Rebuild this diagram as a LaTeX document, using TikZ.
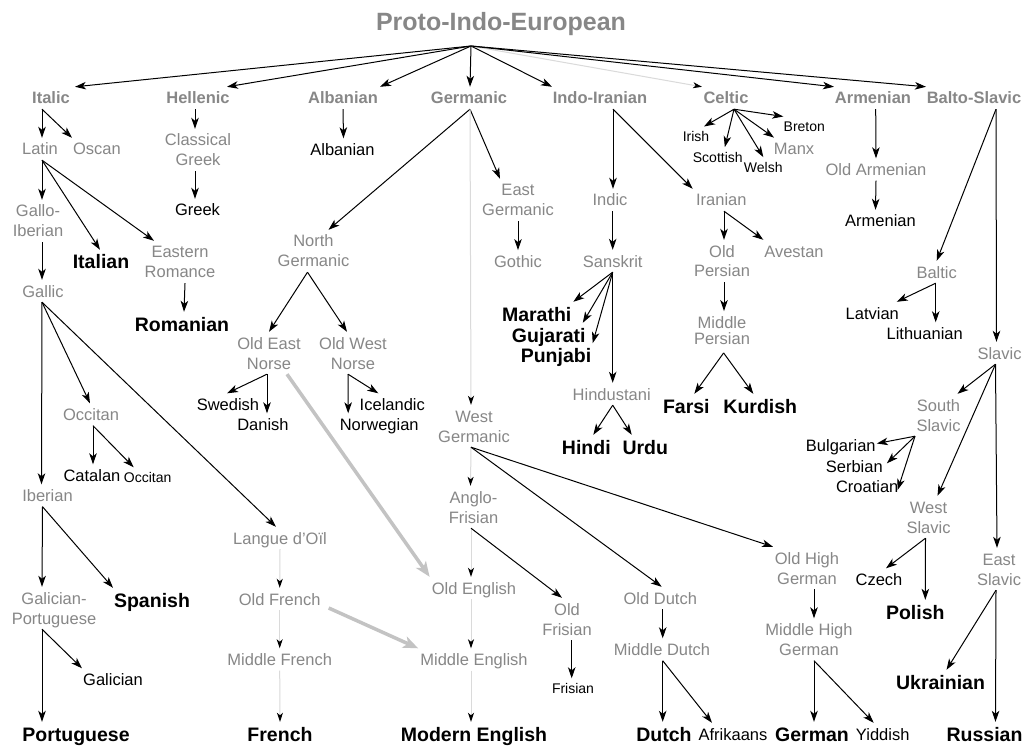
\documentclass[tikz,border=0pt]{standalone}
\usepackage{fontspec}
\setmainfont{Liberation Sans}
\usetikzlibrary{arrows.meta}
\definecolor{tgray}{RGB}{135,135,135}
\definecolor{lgray}{RGB}{218,218,218}
\definecolor{mgray}{RGB}{195,195,195}
\newcommand\twoln[2]{\vtop{\halign{\hfil##\hfil\cr#1\cr#2\cr}}}
\newcommand\conn[5][carr]{\draw[#1] ([xshift=#3pt]#2.south) -- ([xshift=#5pt]#4.north);}
\begin{document}
\begin{tikzpicture}[x=1pt,y=-1pt,
  nb/.style={inner xsep=0pt, inner ysep=5pt, text depth=0pt, anchor=center},
  ttitle/.style={nb, font=\fontsize{25}{30}\selectfont\bfseries, text=tgray, text height=18pt},
  tgrp/.style={nb, font=\fontsize{16.5}{20}\selectfont\bfseries, text=tgray, text height=12pt},
  tmid/.style={nb, font=\fontsize{16.5}{20}\selectfont, text=tgray, text height=12pt},
  tmidd/.style={tmid, text depth=20pt},
  tmod/.style={nb, font=\fontsize{16.5}{20}\selectfont, text=black, text height=12pt},
  tbig/.style={nb, font=\fontsize{19.5}{23}\selectfont\bfseries, text=black, text height=14pt},
  tsml/.style={nb, font=\fontsize{14}{17}\selectfont, text=black, text height=10pt},
  carr/.style={draw=black, line width=1pt, -{Stealth[length=11pt,width=7.5pt,inset=3pt]}},
  clite/.style={draw=lgray, line width=1pt, -{Stealth[length=9pt,width=6pt,inset=2.5pt,color=black]}},
  cfat/.style={draw=mgray, line width=3.5pt, -{Stealth[length=15pt,width=12pt,inset=4pt]}}]
\useasboundingbox (0,0) rectangle (1028,746);
\fill[white] (0,0) rectangle (1028,746);

% title
\node[ttitle] (pie) at (501,22) {Proto-Indo-European};
\coordinate (pieroot) at (471,46);

% groups
\node[tgrp] (italic) at (51,98) {Italic};
\node[tgrp] (hellenic) at (198,98) {Hellenic};
\node[tgrp] (albanianG) at (343,98) {Albanian};
\node[tgrp] (germanic) at (469,98) {Germanic};
\node[tgrp] (indoiran) at (600,98) {Indo-Iranian};
\node[tgrp] (celtic) at (726,98) {Celtic};
\node[tgrp] (armenianG) at (873,98) {Armenian};
\node[tgrp] (baltoslavic) at (974,98) {Balto-Slavic};

% Italic
\node[tmid] (latin) at (40,149) {Latin};
\node[tmid] (oscan) at (97,149) {Oscan};
\node[tmidd] (galloib) at (38,221) {\twoln{Gallo-}{Iberian}};
\node[tbig] (italian) at (101,262) {Italian};
\node[tmidd] (eastrom) at (180,262) {\twoln{Eastern}{Romance}};
\node[tbig] (romanian) at (182,324) {Romanian};
\node[tmid] (gallic) at (43,291) {Gallic};
\node[tmid] (occitanM) at (91,414.5) {Occitan};
\node[tmod] (catalan) at (92,475.5) {Catalan};
\node[tsml] (occitan) at (147.7,477.5) {Occitan};
\node[tmid] (iberian) at (47.5,495.5) {Iberian};
\node[tmid] (langoil) at (280,538) {Langue d’Oïl};
\node[tbig] (spanish) at (152,600) {Spanish};
\node[tmidd] (galport) at (54,608) {\twoln{Galician-}{Portuguese}};
\node[tmod] (galician) at (113,679.5) {Galician};
\node[tbig] (portuguese) at (76,734) {Portuguese};
\node[tmid] (oldfrench) at (279.7,599) {Old French};
\node[tmid] (midfrench) at (279.7,659.5) {Middle French};
\node[tbig] (french) at (280,734) {French};

% Hellenic, Albanian
\node[tmidd] (classgreek) at (198,150) {\twoln{Classical}{Greek}};
\node[tmod] (greek) at (197.5,210) {Greek};
\node[tmod] (albanian) at (342.5,149.5) {Albanian};

% Germanic
\node[tmidd] (northgerm) at (313.5,251) {\twoln{North}{Germanic}};
\node[tmidd] (eastgerm) at (518,200) {\twoln{East}{Germanic}};
\node[tmid] (gothic) at (518,261.3) {Gothic};
\node[tmidd] (oen) at (269,353) {\twoln{Old East}{Norse}};
\node[tmidd] (own) at (353,353) {\twoln{Old West}{Norse}};
\node[tmod] (swedish) at (228,404.5) {Swedish};
\node[tmod] (danish) at (263,424.5) {Danish};
\node[tmod] (icelandic) at (392.3,404.5) {Icelandic};
\node[tmod] (norwegian) at (379.2,424.5) {Norwegian};
\node[tmidd] (westgerm) at (474,426) {\twoln{West}{Germanic}};
\node[tmidd] (anglofris) at (473.5,507) {\twoln{Anglo-}{Frisian}};
\node[tmid] (oldeng) at (474,588) {Old English};
\node[tmid] (midengl) at (474,659.5) {Middle English};
\node[tbig] (modeng) at (474,734) {Modern English};
\node[tmidd] (oldfris) at (567,619) {\twoln{Old}{Frisian}};
\node[tsml] (frisian) at (573,688.5) {Frisian};
\node[tmid] (olddutch) at (660.3,598) {Old Dutch};
\node[tmid] (middutch) at (662,649.5) {Middle Dutch};
\node[tbig] (dutch) at (664,734) {Dutch};
\node[tmod] (afrikaans) at (733,734) {Afrikaans};
\node[tmidd] (ohg) at (807,568) {\twoln{Old High}{German}};
\node[tmidd] (mhg) at (809,639.5) {\twoln{Middle High}{German}};
\node[tbig] (german) at (812,734) {German};
\node[tmod] (yiddish) at (882.7,734) {Yiddish};

% Indo-Iranian
\node[tmid] (indic) at (610,200) {Indic};
\node[tmid] (sanskrit) at (612.7,261) {Sanskrit};
\node[tbig] (marathi) at (536.7,314) {Marathi};
\node[tbig] (gujarati) at (548.8,335) {Gujarati};
\node[tbig] (punjabi) at (556,355.3) {Punjabi};
\node[tmid] (hindustani) at (611.7,394) {Hindustani};
\node[tbig] (hindi) at (586.3,447) {Hindi};
\node[tbig] (urdu) at (645.3,447) {Urdu};
\node[tmid] (iranian) at (721.3,200) {Iranian};
\node[tmidd] (oldpersian) at (722,261) {\twoln{Old}{Persian}};
\node[tmid] (avestan) at (794,251) {Avestan};
\node[tmidd, font=\fontsize{16.5}{16.5}\selectfont, text depth=16.5pt] (midpersian) at (722,330.5) {\twoln{Middle}{Persian}};
\node[tbig] (farsi) at (686.3,406) {Farsi};
\node[tbig] (kurdish) at (760.3,406) {Kurdish};

% Celtic
\node[tsml] (irish) at (696,136.7) {Irish};
\node[tsml] (scottish) at (717.8,157.3) {Scottish};
\node[tsml] (welsh) at (763.3,167.3) {Welsh};
\node[tmid] (manx) at (794,148.8) {Manx};
\node[tsml] (breton) at (804.3,126.7) {Breton};

% Armenian
\node[tmid] (oldarmenian) at (876,169.5) {Old Armenian};
\node[tmod] (armenian) at (880.5,221) {Armenian};

% Balto-Slavic
\node[tmid] (baltic) at (936.7,272) {Baltic};
\node[tmod] (latvian) at (872.3,313) {Latvian};
\node[tmod] (lithuanian) at (924.7,333.5) {Lithuanian};
\node[tmid] (slavic) at (999.5,353) {Slavic};
\node[tmidd] (southslavic) at (938.5,415) {\twoln{South}{Slavic}};
\node[tmod] (bulgarian) at (840.8,445.5) {Bulgarian};
\node[tmod] (serbian) at (854.3,466) {Serbian};
\node[tmod] (croatian) at (867.2,486) {Croatian};
\node[tmidd] (westslavic) at (928.5,517) {\twoln{West}{Slavic}};
\node[tmod] (czech) at (879,579.5) {Czech};
\node[tbig] (polish) at (915.3,612) {Polish};
\node[tmidd] (eastslavic) at (999,569) {\twoln{East}{Slavic}};
\node[tbig] (ukrainian) at (940.5,682) {Ukrainian};
\node[tbig] (russian) at (984.5,734) {Russian};

% ---- connectors ----
\draw[carr] (pieroot) -- ([xshift=24pt]italic.north);
\draw[carr] (pieroot) -- ([xshift=29pt]hellenic.north);
\draw[carr] (pieroot) -- ([xshift=37pt]albanianG.north);
\draw[carr] (pieroot) -- ([xshift=1pt]germanic.north);
\draw[carr] (pieroot) -- ([xshift=-48pt]indoiran.north);
\draw[clite] (pieroot) -- ([xshift=-24pt]celtic.north);
\draw[carr] (pieroot) -- ([xshift=-39pt]armenianG.north);
\draw[carr] (pieroot) -- ([xshift=-48pt]baltoslavic.north);

% Italic
\conn{italic}{-9}{latin}{2}
\conn{italic}{-9}{oscan}{-25}
\conn{latin}{2}{galloib}{4}
\conn{latin}{2}{italian}{-1}
\conn{latin}{2}{eastrom}{-26}
\conn{galloib}{4}{gallic}{-1}
\conn{eastrom}{5}{romanian}{2}
\conn{gallic}{-1}{iberian}{-6}
\conn{gallic}{-1}{occitanM}{-1}
\conn{gallic}{-1}{langoil}{-4}
\conn{occitanM}{2}{catalan}{1}
\conn{occitanM}{2}{occitan}{-14}
\conn{iberian}{-5}{galport}{-12}
\conn{iberian}{-5}{spanish}{-39}
\conn{galport}{-12}{portuguese}{-34}
\conn{galport}{-12}{galician}{-31}
\conn[clite]{langoil}{0}{oldfrench}{0}
\conn[clite]{oldfrench}{0}{midfrench}{0}
\conn[clite]{midfrench}{0}{french}{0}

% Hellenic, Albanian
\conn{hellenic}{-3}{classgreek}{-3}
\conn{classgreek}{-3}{greek}{-2.5}
\conn{albanianG}{0}{albanian}{1}

% Germanic
\conn{germanic}{1}{northgerm}{15}
\conn{germanic}{1}{eastgerm}{-18}
\conn[clite]{germanic}{1}{westgerm}{-3}
\conn{eastgerm}{0}{gothic}{0}
\conn{northgerm}{-6}{oen}{0}
\conn{northgerm}{-6}{own}{-6}
\conn{oen}{-2}{swedish}{-1}
\conn{oen}{-2}{danish}{4}
\conn{own}{-5}{norwegian}{-31}
\conn{own}{-5}{icelandic}{-14}
\conn[clite]{westgerm}{-3}{anglofris}{-3}
\conn{westgerm}{-3}{olddutch}{1.4}
\conn{westgerm}{-3}{ohg}{-34}
\conn[clite]{anglofris}{-2.5}{oldeng}{-3}
\conn{anglofris}{-2.5}{oldfris}{-5}
\conn[clite]{oldeng}{-3}{midengl}{-3}
\conn[clite]{midengl}{-3}{modeng}{-3}
\conn{oldfris}{4.7}{frisian}{-1.3}
\conn{olddutch}{2.4}{middutch}{0.7}
\conn{middutch}{0.7}{dutch}{-1.3}
\conn{middutch}{0.7}{afrikaans}{-21}
\conn{ohg}{7}{mhg}{5}
\conn{mhg}{5}{german}{2}
\conn{mhg}{5}{yiddish}{-9}
\draw[cfat] ([xshift=18pt]oen.south) -- ([xshift=-2pt]oldeng.north west);
\draw[cfat] ([shift={(8pt,-9pt)}]oldfrench.east) -- ([xshift=-2pt]midengl.north west);

% Indo-Iranian
\conn{indoiran}{13}{indic}{3}
\conn{indoiran}{13}{iranian}{-28.6}
\conn{indic}{2.7}{sanskrit}{0}
\conn{sanskrit}{0}{marathi}{36.6}
\conn{sanskrit}{0}{gujarati}{34}
\conn{sanskrit}{0}{punjabi}{36.7}
\conn{sanskrit}{0}{hindustani}{1}
\conn{hindustani}{1}{hindi}{7}
\conn{hindustani}{1}{urdu}{-13.6}
\conn{iranian}{2.7}{oldpersian}{2}
\conn{iranian}{2.7}{avestan}{-30.7}
\conn{oldpersian}{2}{midpersian}{2}
\draw[carr] ([shift={(1.6pt,-3pt)}]midpersian.south) -- ([xshift=8pt]farsi.north);
\draw[carr] ([shift={(1.6pt,-3pt)}]midpersian.south) -- ([xshift=-7pt]kurdish.north);

% Celtic
\conn{celtic}{8}{irish}{8}
\conn{celtic}{8}{scottish}{7}
\conn{celtic}{8}{welsh}{0}
\conn{celtic}{8}{manx}{-20}
\conn{celtic}{8}{breton}{-21}

% Armenian
\conn{armenianG}{2.7}{oldarmenian}{0}
\conn{oldarmenian}{0}{armenian}{-5}

% Balto-Slavic
\conn{baltoslavic}{22}{baltic}{0}
\conn{baltoslavic}{22}{slavic}{-3}
\conn{baltic}{-1}{latvian}{24.4}
\conn{baltic}{-1}{lithuanian}{11}
\conn{slavic}{-4}{southslavic}{19}
\conn{slavic}{-4}{westslavic}{9}
\conn{slavic}{-4}{eastslavic}{-2}
\draw[carr] ([xshift=-23.5pt]southslavic.south) -- ([shift={(1pt,2pt)}]bulgarian.east);
\draw[carr] ([xshift=-23.5pt]southslavic.south) -- ([shift={(4pt,2.7pt)}]serbian.east);
\draw[carr] ([xshift=-23.5pt]southslavic.south) -- ([shift={(-1pt,-4pt)}]croatian.east);
\conn{westslavic}{-3}{czech}{7}
\conn{westslavic}{-3}{polish}{10}
\conn{eastslavic}{-3}{ukrainian}{6}
\conn{eastslavic}{-3}{russian}{11}
\end{tikzpicture}
\end{document}
